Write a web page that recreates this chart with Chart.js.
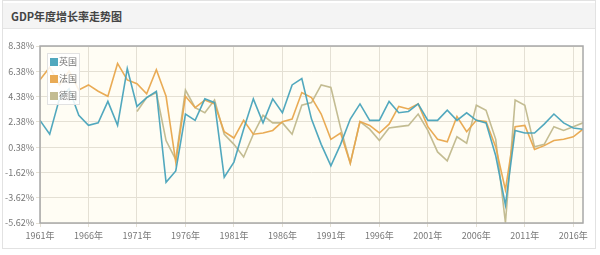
<!DOCTYPE html>
<html>
<head>
<meta charset="utf-8">
<script src="https://cdn.jsdelivr.net/npm/chart.js@4/dist/chart.umd.min.js"></script>
<style>
  body { margin: 0; background: #fff; }
  .wrap { position: relative; width: 600px; height: 255px; overflow: hidden; }
  .box { position: absolute; left: 2px; top: 0; width: 594px; height: 249px; border: 1px solid #e2e2e2; box-sizing: border-box; }
  .head { position: absolute; left: 3px; top: 3px; width: 592px; height: 25px; background: #f4f4f4; border-bottom: 1px solid #e4e4e4; }
  .head span { position: absolute; left: 8px; top: 5px; font: bold 11px "Noto Sans CJK SC", sans-serif; color: #444; }
  canvas { position: absolute; left: 0; top: 0; }
</style>
</head>
<body>
<div class="wrap">
  <div class="box"></div>
  <div class="head"><span>GDP年度增长率走势图</span></div>
  <canvas id="chart" width="600" height="255"></canvas>
</div>
<script>
const years = [];
for (let y = 1961; y <= 2017; y++) years.push(y);

const yTicks = [-5.62, -3.62, -1.62, 0.38, 2.38, 4.38, 6.38, 8.38];
const xTicks = [1961, 1966, 1971, 1976, 1981, 1986, 1991, 1996, 2001, 2006, 2011, 2016];

const seriesNames = ['英国', '法国', '德国'];

const uk = [2.5, 1.4, 4.2, 5.0, 2.9, 2.1, 2.3, 4.0, 2.1, 6.6,
  3.6, 4.3, 4.8, -2.4, -1.5, 3.0, 2.5, 4.2, 3.9, -2.0,
  -0.8, 1.8, 4.2, 2.3, 4.2, 3.1, 5.3, 5.8, 2.6, 0.6,
  -1.1, 0.6, 2.6, 3.8, 2.5, 2.5, 4.0, 3.1, 3.2, 3.8,
  2.5, 2.5, 3.3, 2.5, 3.1, 2.5, 2.3, -0.3, -4.2, 1.7,
  1.5, 1.5, 2.2, 3.0, 2.3, 1.9, 1.8];

const france = [5.7, 6.7, 5.3, 6.4, 4.9, 5.3, 4.8, 4.4, 7.0, 5.7,
  5.4, 4.6, 6.5, 4.4, -0.8, 4.4, 3.5, 4.1, 3.8, 1.6,
  1.1, 2.5, 1.4, 1.5, 1.7, 2.4, 2.6, 4.7, 4.3, 3.0,
  1.0, 1.5, -0.9, 2.4, 2.1, 1.5, 2.2, 3.6, 3.4, 3.8,
  2.0, 1.0, 0.8, 2.8, 1.6, 2.5, 2.4, 0.4, -3.0, 2.0,
  2.1, 0.2, 0.5, 0.9, 1.0, 1.2, 1.8];

const germany = [null, null, null, null, null, null, null, null, null, null,
  3.2, 4.3, 4.7, 0.9, -0.6, 4.9, 3.5, 3.1, 4.1, 1.4,
  0.6, -0.4, 1.4, 2.9, 2.3, 2.3, 1.4, 3.7, 3.9, 5.3,
  5.1, 1.9, -0.9, 2.4, 1.8, 0.9, 1.9, 2.0, 2.1, 3.0,
  1.7, 0.0, -0.7, 1.2, 0.7, 3.7, 3.3, 1.0, -5.6, 4.1,
  3.7, 0.4, 0.6, 2.0, 1.7, 2.0, 2.3];

const colors = ['rgba(72, 163, 186, 0.95)', 'rgba(232, 167, 76, 0.95)', 'rgba(192, 184, 140, 0.95)'];

const toPoints = (vals) => vals.map((v, i) => ({ x: years[i], y: v }));

// plot background + full frame
const frame = {
  id: 'frame',
  beforeDatasetsDraw(chart) {
    const { ctx, chartArea: a } = chart;
    ctx.save();
    ctx.globalCompositeOperation = 'destination-over';
    ctx.fillStyle = '#fffdf4';
    ctx.fillRect(a.left, a.top, a.right - a.left, a.bottom - a.top);
    ctx.restore();
  },
  afterDraw(chart) {
    const { ctx, chartArea: a } = chart;
    ctx.save();
    ctx.strokeStyle = '#a8a8a8';
    ctx.lineWidth = 1.5;
    ctx.strokeRect(a.left, a.top, a.right - a.left, a.bottom - a.top);
    ctx.restore();
  }
};

// legend floating inside the plot, top-left
const innerLegend = {
  id: 'innerLegend',
  afterDraw(chart) {
    const { ctx, chartArea: a } = chart;
    const x = a.left + 7, y = a.top + 7;
    ctx.save();
    ctx.fillStyle = 'rgba(255,255,255,0.85)';
    ctx.strokeStyle = '#e2e2e2';
    ctx.lineWidth = 1;
    ctx.fillRect(x, y, 32, 51);
    ctx.strokeRect(x + 0.5, y + 0.5, 32, 51);
    ctx.font = '9px "Noto Sans CJK SC", sans-serif';
    ctx.textBaseline = 'middle';
    chart.data.datasets.forEach((ds, i) => {
      const cy = y + 9 + i * 17;
      ctx.fillStyle = ds.borderColor;
      ctx.fillRect(x + 3, cy - 4, 8, 8);
      ctx.fillStyle = '#777';
      ctx.fillText(ds.label, x + 12, cy);
    });
    ctx.restore();
  }
};

new Chart(document.getElementById('chart'), {
  type: 'line',
  data: {
    datasets: [
      { label: seriesNames[0], data: toPoints(uk), borderColor: colors[0] },
      { label: seriesNames[1], data: toPoints(france), borderColor: colors[1] },
      { label: seriesNames[2], data: toPoints(germany), borderColor: colors[2] }
    ].map(d => Object.assign(d, { borderWidth: 1.6, pointRadius: 0, tension: 0, fill: false }))
  },
  options: {
    responsive: false,
    animation: false,
    layout: { padding: { top: 46, right: 17, bottom: 10, left: 0 } },
    plugins: { legend: { display: false }, tooltip: { enabled: false } },
    scales: {
      x: {
        type: 'linear',
        min: 1961,
        max: 2017,
        afterBuildTicks(scale) { scale.ticks = xTicks.map(v => ({ value: v })); },
        afterFit(scale) { scale.height = 22; },
        grid: { color: '#e4e0d4', tickLength: 4, drawTicks: true },
        border: { display: false },
        ticks: {
          autoSkip: false,
          maxRotation: 0,
          color: '#777',
          font: { size: 9, family: '"Noto Sans CJK SC", sans-serif' },
          callback: (v) => v + '年'
        }
      },
      y: {
        min: -5.62,
        max: 8.38,
        afterBuildTicks(scale) { scale.ticks = yTicks.map(v => ({ value: v })); },
        afterFit(scale) { scale.width = 40; },
        grid: { color: '#e4e0d4', tickLength: 4 },
        border: { display: false },
        ticks: {
          color: '#777',
          padding: 2,
          font: { size: 9, family: '"Noto Sans CJK SC", sans-serif' },
          callback: (v) => v.toFixed(2) + '%'
        }
      }
    }
  },
  plugins: [frame, innerLegend]
});
</script>
</body>
</html>
